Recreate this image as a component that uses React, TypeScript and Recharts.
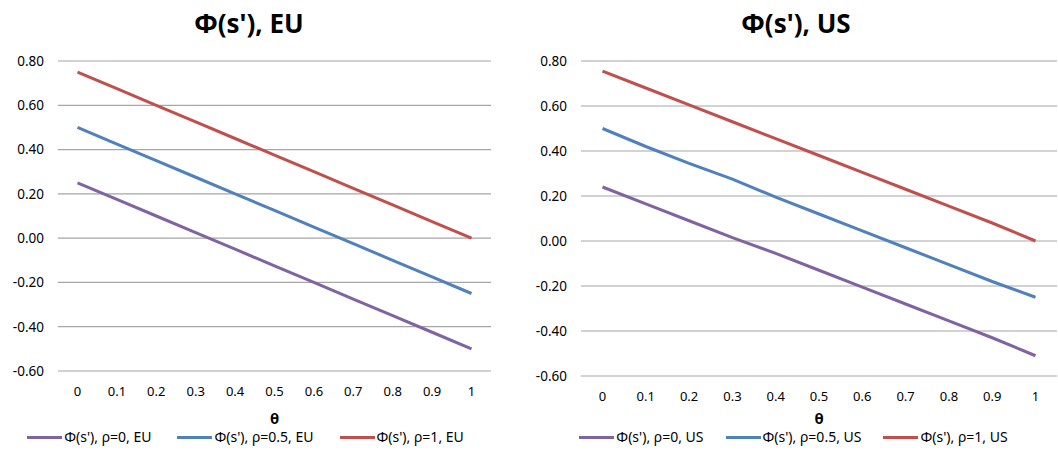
import React from 'react';
import { LineChart, Line, XAxis, YAxis, CartesianGrid, Legend } from 'recharts';

const thetas = ['0', '0.1', '0.2', '0.3', '0.4', '0.5', '0.6', '0.7', '0.8', '0.9', '1'];
const yTicks = [-0.6, -0.4, -0.2, 0, 0.2, 0.4, 0.6, 0.8];

const euRho0 = [0.25, 0.175, 0.1, 0.025, -0.05, -0.125, -0.2, -0.275, -0.35, -0.425, -0.5];
const euRho05 = [0.5, 0.425, 0.35, 0.275, 0.2, 0.125, 0.05, -0.025, -0.1, -0.175, -0.25];
const euRho1 = [0.75, 0.675, 0.6, 0.525, 0.45, 0.375, 0.3, 0.225, 0.15, 0.075, 0.0];

const usRho0 = [0.24, 0.165, 0.09, 0.015, -0.055, -0.13, -0.205, -0.28, -0.355, -0.43, -0.51];
const usRho05 = [0.5, 0.42, 0.345, 0.275, 0.195, 0.12, 0.045, -0.03, -0.105, -0.18, -0.25];
const usRho1 = [0.755, 0.68, 0.605, 0.53, 0.455, 0.38, 0.305, 0.23, 0.155, 0.08, 0.0];

const colors = { r0: '#8064A2', r05: '#4F81BD', r1: '#C0504D' };
const font = '"Noto Sans", "Open Sans", sans-serif';

const buildRows = (a: number[], b: number[], c: number[]) =>
  thetas.map((t, i) => ({ theta: t, r0: a[i], r05: b[i], r1: c[i] }));

const LegendContent = ({ payload, gap }: any) => (
  <div style={{ display: 'flex', justifyContent: 'center', gap, fontFamily: font, fontSize: 14, lineHeight: '20px', color: '#000' }}>
    {(payload || []).map((p: any, i: number) => (
      <div key={i} style={{ display: 'flex', alignItems: 'center' }}>
        <span style={{ display: 'inline-block', width: 35, height: 3, background: p.color, marginRight: 2 }} />
        <span>{p.value}</span>
      </div>
    ))}
  </div>
);

interface PanelProps {
  region: string;
  rows: any[];
  width: number;
  yWidth: number;
  right: number;
  plotBottom: number;
  pad: number;
  legendGap: number;
}

const Panel: React.FC<PanelProps> = ({ region, rows, width, yWidth, right, plotBottom, pad, legendGap }) => {
  const height = 452;
  const top = 61;
  const bottom = 5;
  const legendH = 20;
  const xHeight = height - bottom - legendH - plotBottom;
  return (
    <LineChart width={width} height={height} data={rows} margin={{ top, right, left: 0, bottom }}>
      <CartesianGrid vertical={false} stroke="#a6a6a6" strokeWidth={1.2} />
      <XAxis
        dataKey="theta"
        axisLine={false}
        tickLine={false}
        height={xHeight}
        padding={{ left: pad, right: pad }}
        tickMargin={10}
        tick={{ fill: '#000', fontSize: 13, fontFamily: font }}
        label={{ value: 'θ', position: 'insideBottom', offset: 3, fill: '#000', fontSize: 15, fontWeight: 'bold', fontFamily: font }}
      />
      <YAxis
        type="number"
        domain={[-0.6, 0.8]}
        ticks={yTicks}
        width={yWidth}
        axisLine={false}
        tickLine={false}
        tickMargin={8}
        tickFormatter={(v: number) => v.toFixed(2)}
        tick={{ fill: '#000', fontSize: 13.5, fontFamily: font }}
      />
      <Legend verticalAlign="bottom" height={legendH} content={<LegendContent gap={legendGap} />} />
      <Line dataKey="r0" name={`Φ(s'), ρ=0, ${region}`} stroke={colors.r0} strokeWidth={3} dot={false} isAnimationActive={false} />
      <Line dataKey="r05" name={`Φ(s'), ρ=0.5, ${region}`} stroke={colors.r05} strokeWidth={3} dot={false} isAnimationActive={false} />
      <Line dataKey="r1" name={`Φ(s'), ρ=1, ${region}`} stroke={colors.r1} strokeWidth={3} dot={false} isAnimationActive={false} />
    </LineChart>
  );
};

const titleStyle: React.CSSProperties = {
  position: 'absolute',
  top: 5,
  fontFamily: font,
  fontWeight: 'bold',
  fontSize: 26,
  color: '#000',
  textAlign: 'center',
};

export default function App() {
  return (
    <div style={{ position: 'absolute', left: 0, top: 0, width: 1058, height: 452, background: '#fff' }}>
      <div style={{ position: 'absolute', left: 0, top: 0 }}>
        <Panel region="EU" rows={buildRows(euRho0, euRho05, euRho1)} width={530} yWidth={58} right={39} plotBottom={371} pad={19.5} legendGap={26} />
      </div>
      <div style={{ position: 'absolute', left: 530, top: 0 }}>
        <Panel region="US" rows={buildRows(usRho0, usRho05, usRho1)} width={528} yWidth={51} right={1} plotBottom={376} pad={21.5} legendGap={22} />
      </div>
      <div style={{ ...titleStyle, left: 149, width: 200 }}>Φ(s'), EU</div>
      <div style={{ ...titleStyle, left: 696, width: 200 }}>Φ(s'), US</div>
    </div>
  );
}
